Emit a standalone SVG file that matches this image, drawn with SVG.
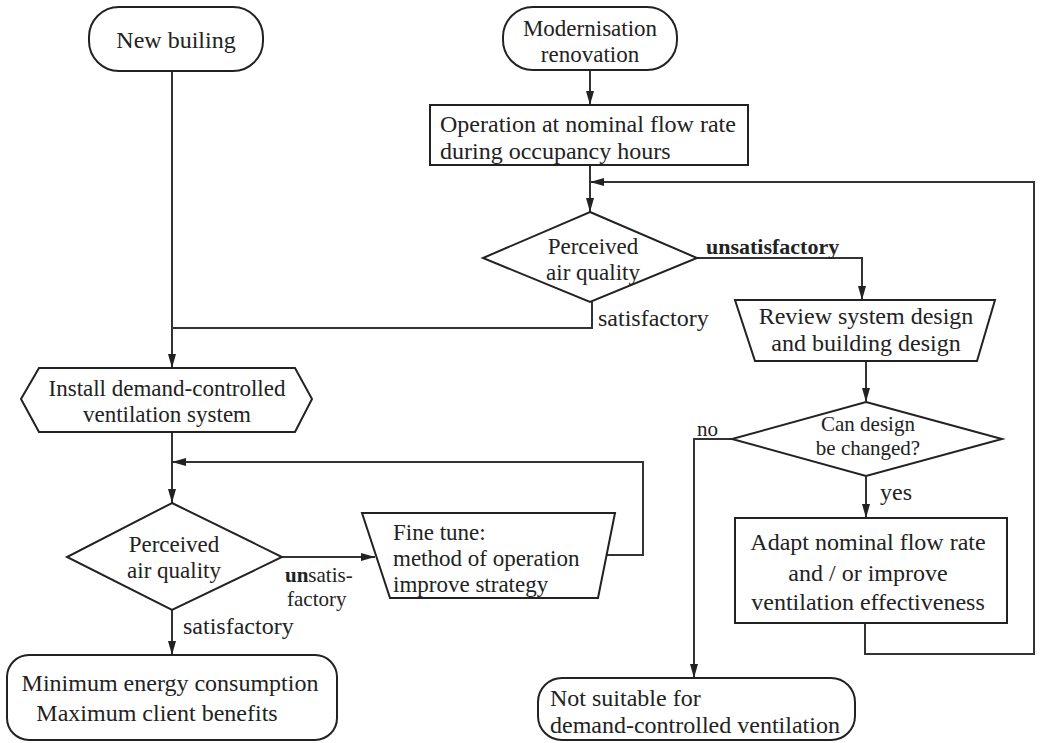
<svg xmlns="http://www.w3.org/2000/svg" width="1040" height="743" viewBox="0 0 1040 743">
<defs>
<marker id="arr" viewBox="0 0 14 8" refX="14" refY="4" markerWidth="14" markerHeight="8" markerUnits="userSpaceOnUse" orient="auto">
<path d="M0,0 L14,4 L0,8 z" fill="#222"/>
</marker>
<style>
.s{fill:#fff;stroke:#222;stroke-width:2}
.c{fill:none;stroke:#333;stroke-width:2}
text{font-family:"Liberation Serif","Times New Roman",serif;font-size:24px;fill:#222}
.m{text-anchor:middle}
.b{font-weight:bold}
.t{font-size:21px}
.u{font-size:23px}
</style>
</defs>
<rect width="1040" height="743" fill="#fff"/>
<g id="connectors">
<path class="c" d="M172,71 V368" marker-end="url(#arr)"/>
<path class="c" d="M590,70 V105" marker-end="url(#arr)"/>
<path class="c" d="M590,165 V212" marker-end="url(#arr)"/>
<path class="c" d="M592,302 V328 H172"/>
<path class="c" d="M697,258 H862 V300" marker-end="url(#arr)"/>
<path class="c" d="M866,361 V402" marker-end="url(#arr)"/>
<path class="c" d="M866,476 V518" marker-end="url(#arr)"/>
<path class="c" d="M732,439 H694 V678" marker-end="url(#arr)"/>
<path class="c" d="M865,623 V654 H1034 V182 H590" marker-end="url(#arr)"/>
<path class="c" d="M172,432 V503" marker-end="url(#arr)"/>
<path class="c" d="M607,555 H643 V462 H172" marker-end="url(#arr)"/>
<path class="c" d="M282,557 H375" marker-end="url(#arr)"/>
<path class="c" d="M172,610 V655" marker-end="url(#arr)"/>
<text x="598" y="326">satisfactory</text>
<text x="706" y="254" class="b" style="font-size:22px">unsatisfactory</text>
<text x="697" y="436" class="t">no</text>
<text x="880" y="500">yes</text>
<text x="285" y="582" class="t"><tspan class="b">un</tspan>satis-</text>
<text x="287" y="606" class="t">factory</text>
<text x="183" y="634">satisfactory</text>
</g>
<g id="new-building">
<rect class="s" x="89" y="7" width="174" height="64" rx="30"/>
<text class="m" x="176" y="48">New builing</text>
</g>
<g id="modernisation">
<rect class="s" x="503" y="7" width="174" height="63" rx="30"/>
<text class="m u" x="590" y="36">Modernisation</text>
<text class="m u" x="590" y="62">renovation</text>
</g>
<g id="operation">
<rect class="s" x="430" y="105" width="318" height="60"/>
<text x="440" y="132">Operation at nominal flow rate</text>
<text x="440" y="159">during occupancy hours</text>
</g>
<g id="paq1">
<polygon class="s" points="590,212 697,258 590,302 483,258"/>
<text class="m u" x="593" y="254">Perceived</text>
<text class="m u" x="593" y="280">air quality</text>
</g>
<g id="review">
<polygon class="s" points="735,300 995,300 977,361 755,361"/>
<text class="m" x="866" y="324">Review system design</text>
<text class="m" x="866" y="351">and building design</text>
</g>
<g id="can-design">
<polygon class="s" points="866,402 1002,439 866,476 732,439"/>
<text class="m t" x="868" y="431">Can design</text>
<text class="m t" x="868" y="455">be changed?</text>
</g>
<g id="adapt">
<rect class="s" x="735" y="518" width="272" height="105"/>
<text class="m" x="868" y="550">Adapt nominal flow rate</text>
<text class="m" x="868" y="581">and / or improve</text>
<text class="m" x="868" y="610">ventilation effectiveness</text>
</g>
<g id="not-suitable">
<rect class="s" x="538" y="678" width="317" height="62" rx="24"/>
<text x="550" y="706">Not suitable for</text>
<text x="550" y="733">demand-controlled ventilation</text>
</g>
<g id="install">
<polygon class="s" points="21,399 39,368 295,368 312,399 295,432 39,432"/>
<text class="m u" x="167" y="396">Install demand-controlled</text>
<text class="m u" x="167" y="422">ventilation system</text>
</g>
<g id="paq2">
<polygon class="s" points="172,503 282,557 172,610 67,557"/>
<text class="m u" x="174" y="552">Perceived</text>
<text class="m u" x="174" y="578">air quality</text>
</g>
<g id="fine-tune">
<polygon class="s" points="362,513 615,513 598,598 390,598"/>
<text x="393" y="540" class="u">Fine tune:</text>
<text x="393" y="566" class="u">method of operation</text>
<text x="393" y="592" class="u">improve strategy</text>
</g>
<g id="minimum">
<rect class="s" x="7" y="655" width="330" height="85" rx="22"/>
<text class="m" x="170" y="691">Minimum energy consumption</text>
<text class="m" x="157" y="721">Maximum client benefits</text>
</g>
</svg>
